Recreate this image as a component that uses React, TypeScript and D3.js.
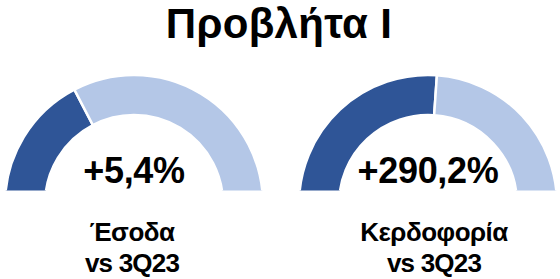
import React from "react";
import * as d3 from "d3";

const title = "Προβλήτα Ι";
const categories = ["Έσοδα", "Κερδοφορία"];
const subtitles = ["vs 3Q23", "vs 3Q23"];
const centreLabels = ["+5,4%", "+290,2%"];
const darkShare = [34.7, 52.2];
const lightShare = [65.3, 47.8];
const colors = ["#2F5597", "#B4C7E7"];

const W = 560;
const H = 279;
const font = "'Liberation Sans', Arial, Helvetica, sans-serif";

export default function App() {
  const cx = d3.scalePoint<number>().domain([0, 1]).range([134, 428]);
  const labelX = [132, 434];
  const cy = 204;
  const baseline = 190.5;
  const pie = d3
    .pie<number>()
    .sort(null)
    .value((d) => d)
    .startAngle(-Math.PI / 2)
    .endAngle(Math.PI / 2);
  const arc = d3.arc<d3.PieArcDatum<number>>().innerRadius(89).outerRadius(129);

  return (
    <svg
      width={W}
      height={H}
      style={{ position: "absolute", left: 0, top: 0, background: "#fff" }}
    >
      <defs>
        <clipPath id="cut" clipPathUnits="userSpaceOnUse">
          <rect x={0} y={0} width={W} height={baseline} />
        </clipPath>
      </defs>
      <rect width={W} height={H} fill="#fff" />
      <text
        x={279}
        y={38}
        textAnchor="middle"
        fontFamily={font}
        fontWeight="bold"
        fontSize={42}
        letterSpacing={0.3}
        fill="#000"
      >
        {title}
      </text>
      {categories.map((c, i) => {
        const arcs = pie([darkShare[i], lightShare[i]]);
        const x = cx(i)!;
        return (
          <g key={c}>
            <g clipPath="url(#cut)">
              <g transform={`translate(${x},${cy})`}>
                {arcs.map((a, j) => (
                  <path
                    key={j}
                    d={arc(a)!}
                    fill={colors[j]}
                    stroke="#fff"
                    strokeWidth={2.5}
                  />
                ))}
              </g>
            </g>
            <text
              x={x}
              y={182.7}
              textAnchor="middle"
              fontFamily={font}
              fontWeight="bold"
              fontSize={36}
              letterSpacing={-0.3}
              fill="#000"
            >
              {centreLabels[i]}
            </text>
            <text
              x={labelX[i]}
              y={240.7}
              textAnchor="middle"
              fontFamily={font}
              fontWeight="bold"
              fontSize={26}
              letterSpacing={-0.5}
              fill="#000"
            >
              {c}
            </text>
            <text
              x={labelX[i]}
              y={271.7}
              textAnchor="middle"
              fontFamily={font}
              fontWeight="bold"
              fontSize={26}
              letterSpacing={-0.8}
              fill="#000"
            >
              {subtitles[i]}
            </text>
          </g>
        );
      })}
    </svg>
  );
}
